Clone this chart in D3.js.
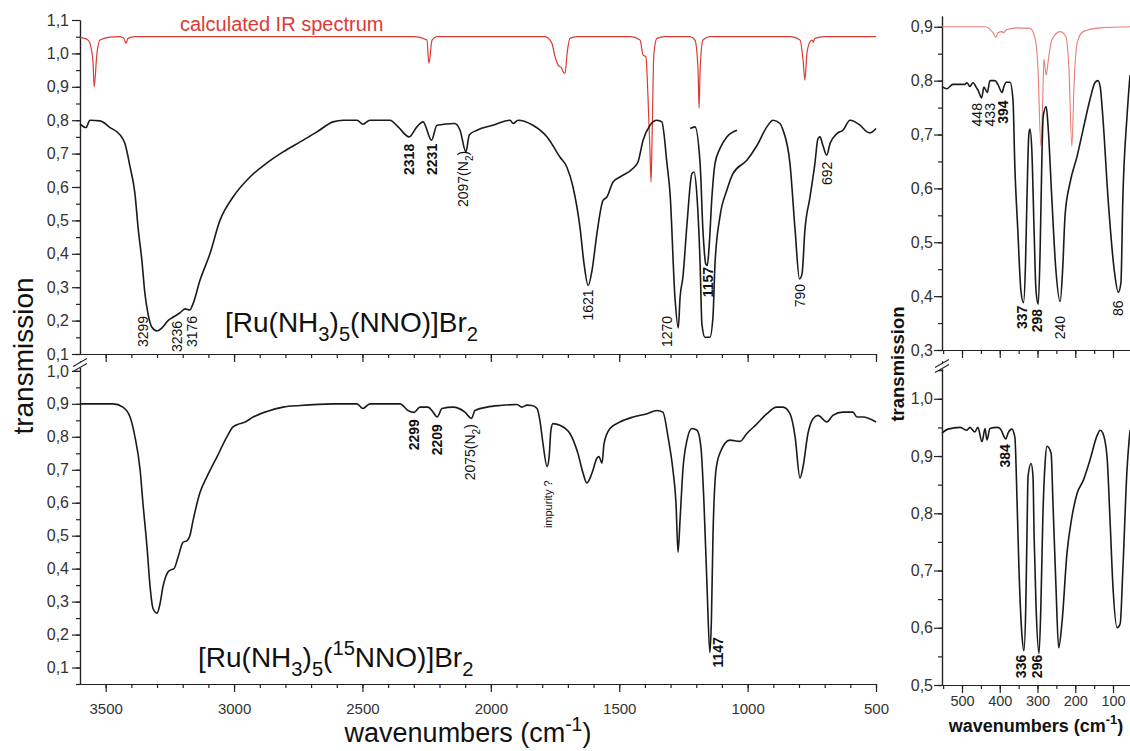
<!DOCTYPE html>
<html>
<head>
<meta charset="utf-8">
<script src="https://cdnjs.cloudflare.com/ajax/libs/d3/7.8.5/d3.min.js"></script>
<style>
body{margin:0;background:#fff;}
svg{display:block;font-family:"Liberation Sans",Arial,sans-serif;}
</style>
</head>
<body>
<div id="chart"></div>
<script>
// spectra as [wavenumber (cm-1), transmission]
let nnoMain = [[3600,0.789],[3577,0.778],[3561,0.80],[3522,0.798],[3483,0.778],[3444,0.756],[3425,0.73],[3405,0.66],
  [3386,0.58],[3374,0.48],[3359,0.38],[3347,0.28],[3335,0.22],[3320,0.18],[3300,0.169],[3281,0.178],[3257,0.20],
  [3238,0.21],[3211,0.223],[3191,0.235],[3172,0.232],[3160,0.25],[3133,0.32],[3094,0.40],[3055,0.50],[3004,0.57],
  [2938,0.63],[2872,0.672],[2809,0.705],[2743,0.735],[2677,0.765],[2615,0.795],[2574,0.80],[2521,0.80],[2498,0.788],
  [2471,0.80],[2393,0.80],[2361,0.78],[2318,0.75],[2288,0.78],[2264,0.795],[2231,0.74],[2210,0.785],[2140,0.79],
  [2120,0.77],[2097,0.705],[2084,0.756],[2054,0.77],[1992,0.785],[1925,0.80],[1913,0.79],[1894,0.80],[1836,0.785],
  [1781,0.75],[1731,0.69],[1704,0.66],[1680,0.60],[1653,0.48],[1637,0.37],[1621,0.305],[1606,0.35],[1587,0.46],
  [1563,0.56],[1548,0.57],[1524,0.615],[1497,0.63],[1446,0.656],[1427,0.675],[1407,0.74],[1380,0.785],[1353,0.80],
  [1334,0.795],[1314,0.67],[1302,0.58],[1283,0.27],[1270,0.178],[1263,0.27],[1252,0.33],[1236,0.49],[1217,0.64],
  [1209,0.645],[1197,0.57],[1185,0.37],[1178,0.19],[1166,0.15],[1147,0.15],[1135,0.21],[1127,0.37],[1108,0.51],
  [1081,0.59],[1057,0.64],[1003,0.68],[963,0.725],[925,0.78],[901,0.80],[874,0.79],[862,0.77],[835,0.67],[815,0.47],
  [798,0.325],[788,0.34],[777,0.47],[757,0.57],[738,0.67],[726,0.745],[718,0.75],[707,0.725],[692,0.695],[679,0.73],
  [652,0.76],[629,0.77],[601,0.80],[562,0.785],[535,0.765],[523,0.762],[500,0.775]];

let nnoOverlay = [[1224,0.775],[1205,0.78],[1185,0.67],[1174,0.47],[1163,0.37],[1157,0.365],[1150,0.42],[1139,0.57],
  [1127,0.67],[1108,0.715],[1081,0.75],[1041,0.77]];

let calcMid = [[3600,1.047],[3581,1.045],[3569,1.04],[3561,1.03],[3549,0.97],[3545,0.90],[3534,1.0],[3522,1.04],
  [3483,1.049],[3444,1.05],[3429,1.045],[3421,1.03],[3413,1.045],[3386,1.05],[2300,1.05],[2249,1.04],[2241,0.97],
  [2229,1.04],[2210,1.05],[1789,1.05],[1762,1.03],[1750,0.99],[1738,0.965],[1723,0.955],[1719,0.945],[1711,0.94],
  [1703,1.0],[1692,1.045],[1664,1.05],[1458,1.05],[1419,1.04],[1407,0.995],[1396,0.99],[1388,0.87],[1380,0.70],
  [1376,0.615],[1372,0.75],[1365,1.0],[1353,1.045],[1322,1.05],[1224,1.05],[1205,1.04],[1193,0.95],[1189,0.836],
  [1185,0.95],[1174,1.04],[1147,1.05],[835,1.05],[796,1.04],[784,0.98],[777,0.92],[769,1.0],[757,1.035],[749,1.04],
  [745,1.034],[738,1.045],[699,1.05],[500,1.05]];

let nnoFar = [[553,0.789],[540,0.785],[524,0.793],[505,0.793],[492,0.793],[487,0.796],[479,0.789],[471,0.796],
  [460,0.785],[458,0.783],[448,0.768],[442,0.788],[433,0.778],[426,0.80],[413,0.80],[405,0.793],[394,0.778],
  [389,0.789],[383,0.797],[373,0.797],[365,0.765],[360,0.64],[352,0.52],[344,0.41],[337,0.388],[332,0.455],
  [328,0.58],[323,0.70],[320,0.71],[315,0.67],[309,0.52],[304,0.41],[298,0.385],[293,0.487],[288,0.67],[285,0.733],
  [277,0.752],[272,0.715],[262,0.58],[252,0.455],[240,0.39],[233,0.455],[227,0.55],[214,0.61],[195,0.66],[179,0.71],
  [161,0.765],[148,0.796],[140,0.80],[134,0.789],[127,0.733],[113,0.58],[96,0.444],[86,0.407],[79,0.425],[74,0.58],
  [63,0.733],[55,0.81]];

let calcFar = [[553,0.9],[439,0.9],[418,0.889],[410,0.88],[405,0.889],[394,0.891],[391,0.889],[381,0.895],[354,0.898],
  [320,0.897],[307,0.88],[299,0.826],[291,0.678],[285,0.796],[283,0.84],[277,0.81],[272,0.835],[262,0.876],[240,0.891],
  [225,0.882],[217,0.826],[209,0.678],[203,0.796],[195,0.87],[179,0.891],[134,0.898],[55,0.9]];

let n15Mid = [[3600,0.9],[3471,0.9],[3433,0.89],[3405,0.86],[3386,0.80],[3366,0.70],[3355,0.60],[3339,0.465],
  [3327,0.345],[3316,0.28],[3300,0.265],[3288,0.295],[3277,0.345],[3261,0.385],[3250,0.395],[3234,0.40],[3218,0.435],
  [3199,0.48],[3183,0.485],[3172,0.50],[3160,0.545],[3133,0.63],[3105,0.68],[3066,0.74],[3028,0.80],[3004,0.83],
  [2977,0.84],[2957,0.845],[2926,0.86],[2872,0.877],[2809,0.89],[2743,0.895],[2615,0.9],[2521,0.9],[2498,0.886],
  [2471,0.9],[2354,0.9],[2323,0.88],[2299,0.874],[2276,0.89],[2245,0.89],[2225,0.875],[2209,0.86],[2190,0.886],
  [2147,0.89],[2101,0.875],[2075,0.856],[2062,0.88],[2015,0.89],[1964,0.895],[1898,0.898],[1879,0.89],[1859,0.896],
  [1840,0.895],[1820,0.886],[1809,0.85],[1797,0.78],[1781,0.71],[1773,0.74],[1766,0.82],[1758,0.84],[1731,0.835],
  [1692,0.81],[1661,0.75],[1641,0.69],[1626,0.66],[1606,0.69],[1587,0.735],[1579,0.74],[1567,0.72],[1559,0.78],
  [1536,0.825],[1497,0.845],[1446,0.86],[1392,0.87],[1353,0.88],[1330,0.875],[1310,0.80],[1291,0.70],[1279,0.60],
  [1271,0.45],[1263,0.55],[1252,0.70],[1236,0.79],[1217,0.825],[1197,0.82],[1182,0.77],[1170,0.60],[1158,0.345],
  [1147,0.145],[1141,0.245],[1135,0.495],[1123,0.70],[1108,0.75],[1069,0.79],[1030,0.786],[1003,0.81],[963,0.84],
  [925,0.87],[887,0.89],[862,0.89],[835,0.87],[815,0.80],[796,0.675],[784,0.71],[765,0.81],[745,0.855],[726,0.865],
  [691,0.845],[668,0.865],[629,0.875],[590,0.875],[574,0.86],[551,0.86],[500,0.845]];

let n15Far = [[553,0.94],[537,0.947],[505,0.95],[487,0.945],[479,0.95],[466,0.942],[458,0.95],[447,0.925],[439,0.948],
  [434,0.928],[426,0.948],[407,0.95],[399,0.948],[384,0.93],[378,0.94],[368,0.947],[360,0.933],[354,0.817],[349,0.70],
  [341,0.585],[336,0.56],[331,0.64],[328,0.76],[325,0.865],[317,0.887],[312,0.865],[309,0.76],[304,0.64],[296,0.555],
  [291,0.64],[286,0.79],[280,0.887],[275,0.917],[264,0.905],[259,0.817],[251,0.67],[244,0.565],[235,0.61],[222,0.73],
  [209,0.793],[195,0.835],[179,0.857],[161,0.893],[142,0.936],[134,0.945],[127,0.94],[116,0.90],[108,0.79],[100,0.67],
  [89,0.60],[81,0.607],[74,0.70],[63,0.875],[55,0.945]];

// peak labels: wavenumber / transmission where the rotated text starts
let labelsTopLeft = [
  {wn:3355,t:0.121,text:'3299'},{wn:3222,t:0.106,text:'3236'},{wn:3164,t:0.121,text:'3176'},
  {wn:2319,t:0.636,text:'2318',bold:true},{wn:2229,t:0.636,text:'2231',bold:true},
  {wn:2108,t:0.54,text:'2097',n2:true},{wn:1622,t:0.20,text:'1621'},{wn:1314,t:0.121,text:'1270'},
  {wn:1154,t:0.27,text:'1157',bold:true},{wn:796,t:0.24,text:'790'},{wn:691,t:0.606,text:'692'}];
let labelsBotLeft = [
  {wn:2299,t:0.759,text:'2299',bold:true},{wn:2210,t:0.744,text:'2209',bold:true},
  {wn:2081,t:0.668,text:'2075',n2:true},{wn:1777,t:0.523,text:'impurity ?',small:true},
  {wn:1115,t:0.10,text:'1147',bold:true}];
let labelsTopRight = [
  {wn:460,t:0.715,text:'448'},{wn:426,t:0.715,text:'433'},{wn:391,t:0.72,text:'394',bold:true},
  {wn:341,t:0.339,text:'337',bold:true},{wn:301,t:0.333,text:'298',bold:true},{wn:240,t:0.32,text:'240'},
  {wn:87,t:0.363,text:'86'}];
let labelsBotRight = [
  {wn:386,t:0.88,text:'384',bold:true},{wn:344,t:0.512,text:'336',bold:true},{wn:301,t:0.512,text:'296',bold:true}];

let xTicksLeft = [3500,3000,2500,2000,1500,1000,500];
let xTicksRight = [500,400,300,200,100];
let yTicksLeftTop = [0.1,0.2,0.3,0.4,0.5,0.6,0.7,0.8,0.9,1.0,1.1];
let yTicksLeftBot = [0.1,0.2,0.3,0.4,0.5,0.6,0.7,0.8,0.9,1.0];
let yTicksRightTop = [0.3,0.4,0.5,0.6,0.7,0.8,0.9];
let yTicksRightBot = [0.5,0.6,0.7,0.8,0.9,1.0];

let svg = d3.select('#chart').append('svg')
    .attr('width',1130)
    .attr('height',751);

svg.append('rect').attr('width',1130).attr('height',751).attr('fill','white');

let xLeft = d3.scaleLinear().domain([3600,500]).range([80,876]);
let yLeftTop = d3.scaleLinear().domain([0.1,1.1]).range([354,20]);
let yLeftBot = d3.scaleLinear().domain([0.05,1.03]).range([684,361]);
let xRight = d3.scaleLinear().domain([553,55]).range([942,1130]);
let yRightTop = d3.scaleLinear().domain([0.3,0.92]).range([350,16]);
let yRightBot = d3.scaleLinear().domain([0.5,1.066]).range([685,361]);

let commaFmt = function(d){ return d3.format('.1f')(d).replace('.',','); };

function styleAxis(g, size){
    g.selectAll('path,line').attr('stroke','#222').attr('stroke-width',1.2);
    g.selectAll('text')
        .attr('fill','#333')
        .style('font-size',size+'px')
        .style('font-family','"Liberation Sans",Arial,sans-serif');
}

function xAxis(scale, y, major, minorStep, labels, size, pad){
    let dom = scale.domain();
    let minor = d3.range(Math.ceil(dom[1]/minorStep)*minorStep, dom[0], minorStep);
    let g1 = svg.append('g').attr('transform','translate(0,'+y+')')
        .call(d3.axisBottom(scale).tickValues(minor).tickSize(4).tickSizeOuter(0).tickFormat(''));
    styleAxis(g1, size);
    let g2 = svg.append('g').attr('transform','translate(0,'+y+')')
        .call(d3.axisBottom(scale).tickValues(major).tickSize(8).tickSizeOuter(0).tickPadding(pad)
            .tickFormat(labels ? d3.format('d') : ''));
    styleAxis(g2, size);
}

function yAxis(scale, x, major, size, pad){
    let dom = scale.domain();
    let minor = d3.range(Math.ceil(dom[0]*20)/20, dom[1], 0.05);
    let g1 = svg.append('g').attr('transform','translate('+x+',0)')
        .call(d3.axisLeft(scale).tickValues(minor).tickSize(4).tickSizeOuter(0).tickFormat(''));
    styleAxis(g1, size);
    let g2 = svg.append('g').attr('transform','translate('+x+',0)')
        .call(d3.axisLeft(scale).tickValues(major).tickSize(8).tickSizeOuter(0).tickPadding(pad).tickFormat(commaFmt));
    styleAxis(g2, size);
}

xAxis(xLeft, 354, xTicksLeft, 100, false, 15, 11);
xAxis(xLeft, 684, xTicksLeft, 100, true, 15, 11);
yAxis(yLeftTop, 80, yTicksLeftTop, 16, 3);
yAxis(yLeftBot, 80, yTicksLeftBot, 16, 3);

xAxis(xRight, 350, xTicksRight, 50, false, 14.5, 3);
xAxis(xRight, 685, xTicksRight, 50, true, 14.5, 3);
yAxis(yRightTop, 942, yTicksRightTop, 16, 1);
yAxis(yRightBot, 942, yTicksRightBot, 16, 1);

// axis break marks
function breakMark(x, y){
    svg.append('rect').attr('x',x-3).attr('y',y-3).attr('width',6).attr('height',6).attr('fill','white');
    [-2.5,2.5].forEach(function(o){
        svg.append('line')
            .attr('x1',x-7).attr('y1',y+o+4)
            .attr('x2',x+7).attr('y2',y+o-4)
            .attr('stroke','#222').attr('stroke-width',1.1);
    });
}
breakMark(80,365);
breakMark(942,366);

function curve(data, xs, ys, color, width){
    svg.append('path')
        .datum(data)
        .attr('fill','none')
        .attr('stroke',color)
        .attr('stroke-width',width)
        .attr('stroke-linejoin','round')
        .attr('d',d3.line().x(d=>xs(d[0])).y(d=>ys(d[1])).curve(d3.curveMonotoneX));
}

curve(calcMid, xLeft, yLeftTop, '#dc3a34', 1.2);
curve(nnoMain, xLeft, yLeftTop, '#1a1a1a', 1.6);
curve(nnoOverlay, xLeft, yLeftTop, '#1a1a1a', 1.6);
curve(n15Mid, xLeft, yLeftBot, '#1a1a1a', 1.6);
curve(calcFar, xRight, yRightTop, '#e67d77', 1.1);
curve(nnoFar, xRight, yRightTop, '#1a1a1a', 1.6);
curve(n15Far, xRight, yRightBot, '#1a1a1a', 1.6);

// text with sub/superscripts
function richText(parent, parts, size){
    let t = parent.append('text').style('font-size',size+'px');
    let shift = 0;
    parts.forEach(function(p){
        let target = p[1]==='sub' ? 0.32*size : (p[1]==='sup' ? -0.42*size : 0);
        t.append('tspan')
            .attr('dy',target-shift)
            .style('font-size', p[1] ? (0.72*size)+'px' : null)
            .text(p[0]);
        shift = target;
    });
    return t;
}

function peakLabels(list, xs, ys){
    list.forEach(function(d){
        let g = svg.append('g')
            .attr('transform','translate('+xs(d.wn)+','+ys(d.t)+') rotate(-90)');
        let size = d.small ? 11 : 14;
        let parts = d.n2 ? [[d.text+'(N'],['2','sub'],[')']] : [[d.text]];
        richText(g, parts, size)
            .attr('y', size*0.36)
            .attr('fill','#111')
            .style('font-weight', d.bold ? 'bold' : 'normal');
    });
}

peakLabels(labelsTopLeft, xLeft, yLeftTop);
peakLabels(labelsBotLeft, xLeft, yLeftBot);
peakLabels(labelsTopRight, xRight, yRightTop);
peakLabels(labelsBotRight, xRight, yRightBot);

// compound names
richText(svg, [['[Ru(NH'],['3','sub'],[')'],['5','sub'],['(NNO)]Br'],['2','sub']], 28)
    .attr('x',225).attr('y',332).attr('fill','#111');
richText(svg, [['[Ru(NH'],['3','sub'],[')'],['5','sub'],['('],['15','sup'],['NNO)]Br'],['2','sub']], 28)
    .attr('x',198).attr('y',667).attr('fill','#111');

svg.append('text')
    .attr('x',180).attr('y',31)
    .attr('fill','#dc3a34')
    .style('font-size','20px')
    .text('calculated IR spectrum');

// axis titles
svg.append('text')
    .attr('transform','translate(33,356) rotate(-90)')
    .attr('text-anchor','middle')
    .attr('fill','#111')
    .style('font-size','28px')
    .text('transmission');

svg.append('text')
    .attr('transform','translate(904,364) rotate(-90)')
    .attr('text-anchor','middle')
    .attr('fill','#111')
    .style('font-size','18.5px')
    .style('font-weight','bold')
    .text('transmission');

richText(svg, [['wavenumbers (cm'],['-1','sup'],[')']], 27)
    .attr('x',468).attr('y',742).attr('text-anchor','middle').attr('fill','#111');

richText(svg, [['wavenumbers (cm'],['-1','sup'],[')']], 18)
    .attr('x',1036).attr('y',732).attr('text-anchor','middle').attr('fill','#111')
    .style('font-weight','bold');
</script>
</body>
</html>
